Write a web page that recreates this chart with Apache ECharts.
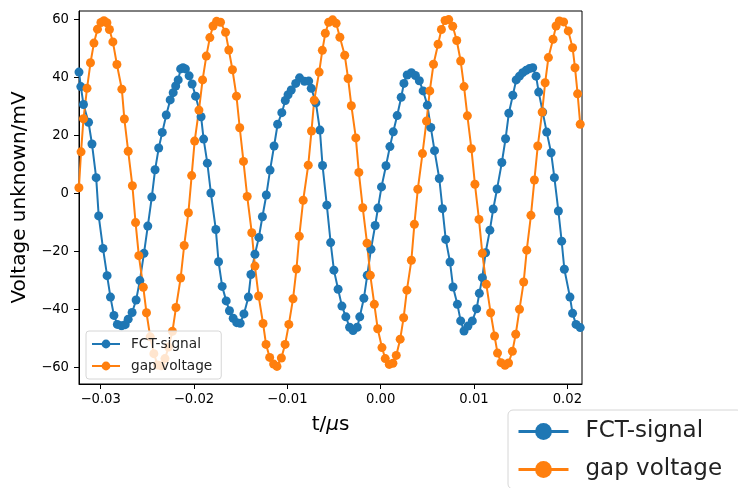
<!DOCTYPE html>
<html>
<head>
<meta charset="utf-8">
<script src="https://cdn.jsdelivr.net/npm/echarts@6/dist/echarts.min.js"></script>
<style>
  html, body { margin: 0; padding: 0; background: #ffffff; }
  #chart { width: 738px; height: 488px; }
</style>
</head>
<body>
<div id="chart"></div>
<script>
// Sampled time (µs) and voltage (mV) for the two channels
const fctTime = [-0.03232,-0.03212,-0.03184,-0.03130,-0.03093,-0.03048,-0.03021,-0.02975,-0.02931,-0.02895,
  -0.02858,-0.02821,-0.02776,-0.02737,-0.02705,-0.02663,-0.02620,-0.02580,-0.02536,-0.02495,
  -0.02452,-0.02417,-0.02378,-0.02340,-0.02297,-0.02255,-0.02223,-0.02196,-0.02169,-0.02143,
  -0.02118,-0.02092,-0.02052,-0.02020,-0.01983,-0.01924,-0.01897,-0.01857,-0.01819,-0.01766,
  -0.01737,-0.01698,-0.01655,-0.01620,-0.01580,-0.01542,-0.01505,-0.01465,-0.01417,-0.01390,
  -0.01347,-0.01305,-0.01267,-0.01225,-0.01185,-0.01142,-0.01104,-0.01059,-0.01022,-0.00992,
  -0.00958,-0.00910,-0.00869,-0.00816,-0.00771,-0.00744,-0.00694,-0.00651,-0.00623,-0.00577,
  -0.00536,-0.00501,-0.00456,-0.00415,-0.00373,-0.00333,-0.00296,-0.00251,-0.00224,-0.00180,
  -0.00144,-0.00104,-0.00059,-0.00029,0.00009,0.00057,0.00099,0.00135,0.00177,0.00220,
  0.00249,0.00284,0.00329,0.00372,0.00414,0.00455,0.00500,0.00537,0.00577,0.00628,
  0.00662,0.00697,0.00743,0.00775,0.00822,0.00857,0.00893,0.00935,0.00982,0.01028,
  0.01057,0.01089,0.01124,0.01170,0.01206,0.01247,0.01298,0.01338,0.01373,0.01416,
  0.01452,0.01487,0.01522,0.01559,0.01594,0.01629,0.01665,0.01693,0.01736,0.01779,
  0.01826,0.01861,0.01904,0.01939,0.01968,0.02028,0.02056,0.02093,0.02138];
const fctVolt = [41.8,36.8,30.6,24.5,17.0,5.4,-7.8,-19.0,-28.4,-35.8,
  -42.1,-45.2,-45.7,-45.3,-43.4,-41.1,-36.8,-30.1,-20.7,-11.3,
  -1.3,8.1,15.6,21.0,27.0,32.2,34.7,37.0,39.1,42.9,
  43.3,42.9,40.5,37.7,33.5,26.4,18.7,10.4,0.1,-12.5,
  -23.6,-32.1,-37.1,-40.5,-43.1,-44.6,-44.8,-41.6,-35.8,-28.0,
  -21.0,-15.2,-8.1,-0.6,8.0,16.3,23.8,27.8,32.0,34.0,
  35.6,37.9,39.8,38.6,38.7,36.2,31.2,21.8,9.6,-4.1,
  -17.0,-26.5,-33.1,-38.9,-42.6,-46.2,-47.3,-46.2,-42.6,-36.2,
  -28.3,-19.3,-11.1,-5.1,2.2,9.5,16.1,21.2,26.8,33.1,
  37.9,40.8,41.6,40.6,38.8,35.3,30.4,22.7,14.7,5.1,
  -5.3,-15.9,-23.7,-32.3,-38.3,-44.0,-47.5,-45.8,-44.0,-39.8,
  -34.5,-29.1,-20.5,-12.7,-5.4,1.5,10.6,18.8,27.6,33.8,
  39.1,40.4,41.6,42.4,43.0,43.3,40.4,34.9,28.0,21.1,
  14.0,5.4,-6.1,-16.5,-26.2,-35.8,-41.4,-45.2,-46.3];

const gapTime = [-0.03233,-0.03210,-0.03184,-0.03146,-0.03109,-0.03072,-0.03034,-0.02997,-0.02965,-0.02933,
  -0.02906,-0.02869,-0.02826,-0.02773,-0.02746,-0.02705,-0.02660,-0.02626,-0.02591,-0.02543,
  -0.02509,-0.02469,-0.02430,-0.02390,-0.02351,-0.02311,-0.02272,-0.02231,-0.02193,-0.02143,
  -0.02105,-0.02060,-0.02025,-0.01993,-0.01947,-0.01908,-0.01868,-0.01830,-0.01796,-0.01758,
  -0.01716,-0.01662,-0.01627,-0.01588,-0.01545,-0.01510,-0.01470,-0.01430,-0.01381,-0.01347,
  -0.01308,-0.01260,-0.01228,-0.01189,-0.01147,-0.01111,-0.01064,-0.01024,-0.00984,-0.00939,
  -0.00902,-0.00872,-0.00830,-0.00776,-0.00741,-0.00712,-0.00659,-0.00625,-0.00593,-0.00557,
  -0.00515,-0.00477,-0.00437,-0.00385,-0.00349,-0.00314,-0.00266,-0.00234,-0.00192,-0.00146,
  -0.00111,-0.00068,-0.00032,0.00014,0.00049,0.00092,0.00131,0.00167,0.00209,0.00246,
  0.00281,0.00329,0.00361,0.00398,0.00448,0.00491,0.00526,0.00566,0.00615,0.00651,
  0.00690,0.00729,0.00772,0.00815,0.00857,0.00893,0.00929,0.00972,0.01010,0.01053,
  0.01089,0.01132,0.01178,0.01220,0.01252,0.01290,0.01332,0.01370,0.01411,0.01447,
  0.01487,0.01532,0.01565,0.01610,0.01647,0.01683,0.01730,0.01762,0.01797,0.01847,
  0.01879,0.01914,0.01960,0.02010,0.02056,0.02082,0.02110,0.02138];
const gapVolt = [1.9,14.3,25.7,36.2,45.0,51.8,56.6,58.9,59.5,58.8,
  56.5,52.2,44.4,35.9,25.6,14.5,2.6,-10.1,-21.5,-32.4,
  -41.2,-49.5,-55.3,-59.2,-59.5,-57.0,-53.0,-47.6,-39.4,-29.2,
  -18.0,-6.7,6.1,18.0,28.7,39.1,47.3,53.7,57.7,59.3,
  59.0,55.5,49.4,42.6,33.5,22.6,11.0,-1.1,-13.6,-25.1,
  -35.4,-44.9,-52.1,-56.6,-58.9,-59.7,-56.8,-52.1,-45.2,-36.4,
  -26.1,-14.8,-2.4,9.7,21.5,32.1,41.8,49.3,55.2,59.0,
  59.8,58.6,53.8,47.6,39.6,30.2,19.1,7.2,-5.0,-17.2,
  -28.3,-38.3,-46.7,-53.2,-57.0,-59.0,-58.6,-55.9,-50.3,-42.9,
  -33.4,-23.1,-10.7,1.4,13.7,24.9,35.3,44.5,51.4,56.5,
  59.6,59.9,57.6,52.7,45.6,36.8,26.7,15.4,3.1,-9.0,
  -20.7,-31.4,-41.2,-49.2,-55.1,-58.4,-59.3,-58.5,-54.5,-48.6,
  -40.0,-30.6,-19.6,-7.6,4.6,16.3,28.0,38.1,46.8,53.1,
  57.7,59.4,59.1,56.0,50.2,43.3,34.3,23.8];

const seriesNames = ['FCT-signal', 'gap voltage'];
const seriesColors = ['#1f77b4', '#ff7f0e'];
const xTicks = [-0.03, -0.02, -0.01, 0.00, 0.01, 0.02];
const yTicks = [-60, -40, -20, 0, 20, 40, 60];
const xRange = [-0.03232, 0.02157];
const yRange = [-65.76, 62.86];

const FONT = 'DejaVu Sans';
const minus = v => (v < 0 ? '\u2212' : '');
const zip = (a, b) => a.map((v, i) => [v, b[i]]);

const chart = echarts.init(document.getElementById('chart'), null, { renderer: 'canvas' });

const legendText = (size, left) => ({
  fontFamily: FONT, fontSize: size, color: '#222', padding: [0, 0, 0, left]
});

chart.setOption({
  animation: false,
  backgroundColor: '#ffffff',
  grid: {
    left: 79, right: 156, top: 11, bottom: 104,
    show: true, borderColor: '#000', borderWidth: 1, backgroundColor: 'transparent'
  },
  xAxis: {
    type: 'value',
    min: xRange[0], max: xRange[1],
    name: 't/{i|\u03bc}s',
    nameLocation: 'middle',
    nameGap: 31,
    nameTextStyle: {
      fontFamily: FONT, fontSize: 20, color: '#000',
      rich: { i: { fontFamily: FONT, fontSize: 20, fontStyle: 'italic', color: '#000' } }
    },
    axisLine: { show: true, onZero: false, lineStyle: { color: '#000', width: 1 } },
    axisTick: { show: true, length: 5, customValues: xTicks, lineStyle: { color: '#000' } },
    axisLabel: {
      customValues: xTicks, margin: 9,
      fontFamily: FONT, fontSize: 13.2, color: '#000',
      formatter: v => minus(v) + Math.abs(v).toFixed(2)
    },
    splitLine: { show: false }
  },
  yAxis: {
    type: 'value',
    min: yRange[0], max: yRange[1],
    name: 'Voltage unknown/mV',
    nameLocation: 'middle',
    nameGap: 44,
    nameTextStyle: { fontFamily: FONT, fontSize: 20, color: '#000' },
    axisLine: { show: true, onZero: false, lineStyle: { color: '#000', width: 1 } },
    axisTick: { show: true, length: 5, customValues: yTicks, lineStyle: { color: '#000' } },
    axisLabel: {
      customValues: yTicks, margin: 10,
      fontFamily: FONT, fontSize: 13.2, color: '#000',
      formatter: v => minus(v) + Math.abs(v).toFixed(0)
    },
    splitLine: { show: false }
  },
  legend: [
    {
      data: seriesNames,
      zlevel: 1,
      orient: 'vertical',
      left: 86, top: 331,
      itemWidth: 28, itemHeight: 11, itemGap: 8,
      padding: [6, 9, 6, 5],
      textStyle: legendText(13.7, 6),
      backgroundColor: 'rgba(255,255,255,0.8)',
      borderColor: '#d6d6d6', borderWidth: 1, borderRadius: 3,
      lineStyle: { width: 2 },
      selectedMode: false
    },
    {
      data: seriesNames,
      zlevel: 1,
      orient: 'vertical',
      left: 508, top: 410,
      height: 120,
      itemWidth: 50, itemHeight: 21, itemGap: 15,
      padding: [10, 20, 8, 9],
      textStyle: legendText(23, 12),
      backgroundColor: 'rgba(255,255,255,0.8)',
      borderColor: '#d6d6d6', borderWidth: 1, borderRadius: 5,
      lineStyle: { width: 3 },
      selectedMode: false
    }
  ],
  series: [
    {
      name: seriesNames[0],
      type: 'line',
      data: zip(fctTime, fctVolt),
      symbol: 'circle', symbolSize: 9,
      lineStyle: { color: seriesColors[0], width: 2 },
      itemStyle: { color: seriesColors[0] },
      clip: true
    },
    {
      name: seriesNames[1],
      type: 'line',
      data: zip(gapTime, gapVolt),
      symbol: 'circle', symbolSize: 9,
      lineStyle: { color: seriesColors[1], width: 2 },
      itemStyle: { color: seriesColors[1] },
      clip: true
    }
  ]
});
</script>
</body>
</html>
